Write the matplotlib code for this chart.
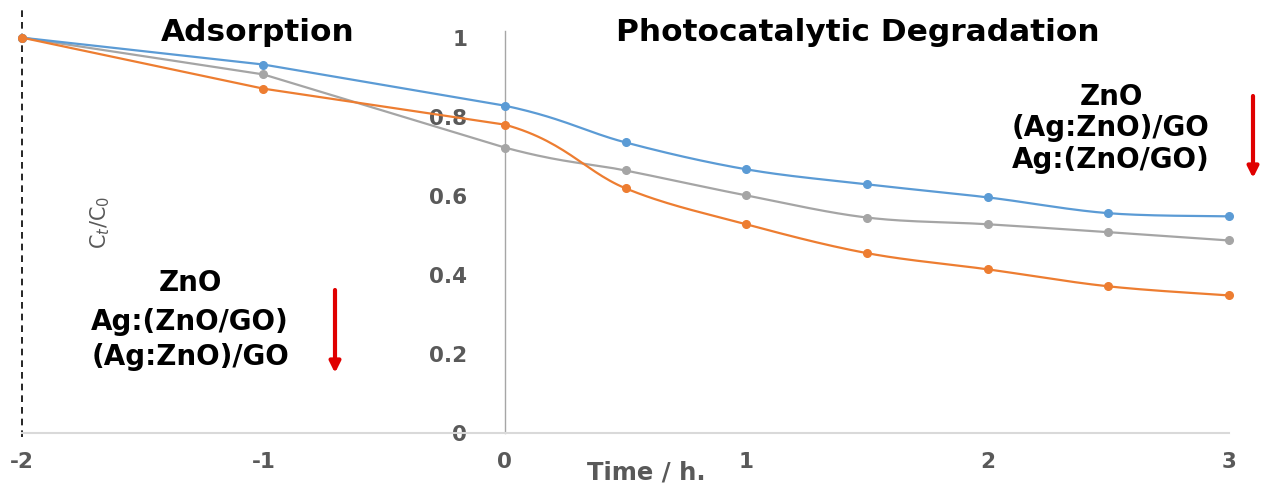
import numpy as np
import matplotlib
matplotlib.use("Agg")
import matplotlib.pyplot as plt

# ---- data ----
time_h = [-2, -1, 0, 0.5, 1, 1.5, 2, 2.5, 3]
zno = [1.0, 0.932, 0.828, 0.735, 0.667, 0.629, 0.596, 0.556, 0.548]        # blue
ag_zno_go = [1.0, 0.871, 0.780, 0.619, 0.528, 0.455, 0.414, 0.371, 0.348]  # orange
ag_zno__go = [1.0, 0.907, 0.722, 0.664, 0.601, 0.545, 0.528, 0.508, 0.487] # grey
x_ticks = [-2, -1, 0, 1, 2, 3]
y_ticks = [0, 0.2, 0.4, 0.6, 0.8, 1.0]
y_tick_labels = ["0", "0.2", "0.4", "0.6", "0.8", "1"]
n_adsorption = 3  # points -2, -1, 0 (dark phase, straight segments)

BLUE = "#5B9BD5"
ORANGE = "#ED7D31"
GREY = "#A5A5A5"
TICK = "#595959"

W, H = 1261, 484
fig = plt.figure(figsize=(W / 100, H / 100), dpi=100)
ax = fig.add_axes([22 / W, (H - 433) / H, 1207 / W, 425 / H])
ax.set_xlim(-2, 3)
ax.set_ylim(0, 1.075)


def smooth(xs, ys, first_seg=0, sx=241.0, sy=395.0, n=30):
    """Excel-like smoothed line (Catmull-Rom Bezier) in screen-scaled space."""
    P = np.column_stack([np.asarray(xs, float) * sx, np.asarray(ys, float) * sy])
    out = []
    m = len(P)
    for i in range(first_seg, m - 1):
        p0 = P[i - 1] if i > 0 else P[i]
        p1 = P[i]
        p2 = P[i + 1]
        p3 = P[i + 2] if i + 2 < m else P[i + 1]
        c1 = p1 + (p2 - p0) / 6.0
        c2 = p2 - (p3 - p1) / 6.0
        t = np.linspace(0, 1, n)[:, None]
        seg = ((1 - t) ** 3) * p1 + 3 * ((1 - t) ** 2) * t * c1 + 3 * (1 - t) * t ** 2 * c2 + t ** 3 * p2
        out.append(seg if not out else seg[1:])
    S = np.vstack(out)
    return S[:, 0] / sx, S[:, 1] / sy


k = n_adsorption - 1
for ys, col, z in [(ag_zno__go, GREY, 3), (zno, BLUE, 4), (ag_zno_go, ORANGE, 5)]:
    # adsorption phase: straight segments
    ax.plot(time_h[:n_adsorption], ys[:n_adsorption], color=col, lw=1.6, zorder=z, clip_on=False)
    # degradation phase: smoothed (tangent at t=0 uses the previous point)
    sx_, sy_ = smooth(time_h[k - 1:], ys[k - 1:], first_seg=1)
    ax.plot(sx_, sy_, color=col, lw=1.6, zorder=z, clip_on=False)
    ax.plot(time_h, ys, "o", color=col, ms=5.5, zorder=z, clip_on=False)

# dashed line at x = -2
ax.plot([-2, -2], [-0.01, 1.08], color="black", lw=1.2, ls=(0, (4, 3)), clip_on=False, zorder=2)

# spines
for s in ["top", "right"]:
    ax.spines[s].set_visible(False)
ax.spines["left"].set_position(("data", 0))
ax.spines["left"].set_bounds(0, 1.018)
ax.spines["left"].set_color("#A6A6A6")
ax.spines["left"].set_linewidth(1.0)
ax.spines["bottom"].set_bounds(-2, 3)
ax.spines["bottom"].set_color("#D9D9D9")
ax.spines["bottom"].set_linewidth(1.5)

ax.set_xticks(x_ticks)
ax.set_xticklabels([str(v) for v in x_ticks])
ax.set_yticks(y_ticks)
ax.set_yticklabels(y_tick_labels)
ax.tick_params(axis="y", length=0, pad=27, labelsize=15.5, labelcolor=TICK)
ax.tick_params(axis="x", length=0, pad=14, labelsize=15.5, labelcolor=TICK)
for lab in ax.get_xticklabels() + ax.get_yticklabels():
    lab.set_fontweight("bold")


def fx(px):
    return px / W


def fy(py):
    return 1 - py / H


# axis labels
fig.text(fx(646), fy(473), "Time / h.", ha="center", va="center", fontsize=17.5,
         fontweight="bold", color=TICK)
fig.text(fx(100), fy(222), r"C$_t$/C$_0$", ha="center", va="center", fontsize=15,
         rotation=90, color=TICK)

# section titles
fig.text(fx(258), fy(33), "Adsorption", ha="center", va="center", fontsize=22.5,
         fontweight="bold", color="black")
fig.text(fx(858), fy(33), "Photocatalytic Degradation", ha="center", va="center",
         fontsize=22.5, fontweight="bold", color="black")

# annotation blocks
for txt, py in [("ZnO", 283), ("Ag:(ZnO/GO)", 322), ("(Ag:ZnO)/GO", 357)]:
    fig.text(fx(190), fy(py), txt, ha="center", va="center", fontsize=20,
             fontweight="bold", color="black")
for txt, py in [("ZnO", 97), ("(Ag:ZnO)/GO", 128), ("Ag:(ZnO/GO)", 160)]:
    fig.text(fx(1111), fy(py), txt, ha="center", va="center", fontsize=20,
             fontweight="bold", color="black")

# red arrows
for px, y0, y1 in [(335, 290, 373), (1253, 96, 178)]:
    fig.add_artist(matplotlib.patches.FancyArrowPatch(
        (fx(px), fy(y0)), (fx(px), fy(y1)), transform=fig.transFigure,
        arrowstyle="-|>", mutation_scale=16, color="#E00000", lw=3, shrinkA=0, shrinkB=0))

fig.savefig("out.png", dpi=100)
